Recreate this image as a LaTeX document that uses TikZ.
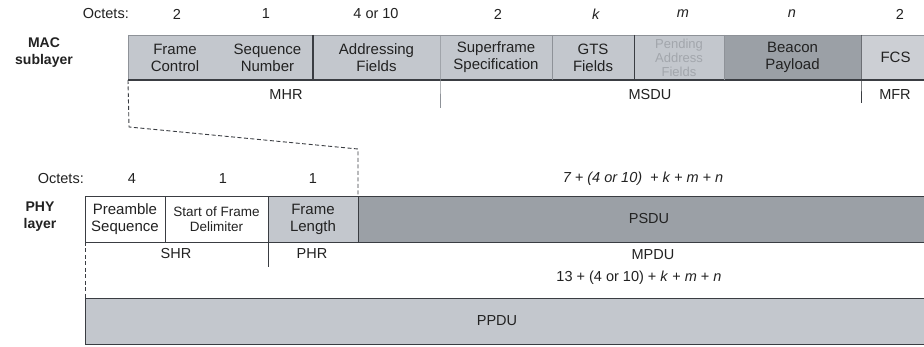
\documentclass[tikz,border=0pt]{standalone}
\usepackage{fontspec}
\setmainfont{Liberation Sans}
\usetikzlibrary{calc}
\definecolor{lightcell}{HTML}{C3C7CD}
\definecolor{darkcell}{HTML}{9BA0A6}
\definecolor{edge}{HTML}{3A3D42}
\definecolor{softedge}{HTML}{8E9298}
\definecolor{faded}{HTML}{A2A6AC}
\definecolor{ink}{HTML}{222222}
\begin{document}
\begin{tikzpicture}[x=1pt,y=-1pt,
  cell/.style={inner sep=0pt, outer sep=0pt, align=center, font=\fontsize{15}{17}\selectfont, text=ink},
  lbl/.style={inner sep=0pt, font=\fontsize{14.5}{17}\selectfont, text=ink},
  layerlbl/.style={inner sep=0pt, align=center, font=\fontsize{14}{17}\bfseries\selectfont, text=ink},
  phycell/.style={cell, draw=edge, line width=0.9pt},
  dashline/.style={edge, line width=0.9pt, dash pattern=on 4pt off 2.5pt},
  hardline/.style={edge, line width=1pt},
  softline/.style={softedge, line width=0.7pt}]
\clip (0,0) rectangle (924,347);
\fill[white] (0,0) rectangle (924,347);

% ---------- MAC sublayer ----------
\node[lbl, anchor=east] (oct1) at (129,14) {Octets:};
\node[lbl] (o1) at (177,14) {2};
\node[lbl] (o2) at (266,14) {1};
\node[lbl] (o3) at (376,14) {4 or 10};
\node[lbl] (o4) at (498,14) {2};
\node[lbl] (o5) at (596,14) {\textit{k}};
\node[lbl] (o6) at (683,14) {\textit{m}};
\node[lbl] (o7) at (792,14) {\textit{n}};
\node[lbl] (o8) at (900,14) {2};

\node[layerlbl] (mac) at (44,53) {MAC\\sublayer};

\node[cell, fill=lightcell, minimum width=94pt, minimum height=45pt] (fc) at (175,57.5) {Frame\\Control};
\node[cell, fill=lightcell, minimum width=91pt, minimum height=45pt] (sn) at (267.5,57.5) {Sequence\\Number};
\node[cell, fill=lightcell, minimum width=127pt, minimum height=45pt] (ad) at (376.5,57.5) {Addressing\\Fields};
\node[cell, fill=lightcell, minimum width=112pt, minimum height=45pt] (sf) at (496,57.5) {Superframe\\Specification};
\node[cell, fill=lightcell, minimum width=82pt, minimum height=45pt] (gts) at (593,57.5) {GTS\\Fields};
\node[cell, fill=lightcell, minimum width=90pt, minimum height=45pt, text=faded, font=\fontsize{13}{14}\selectfont] (pa) at (679,57.5) {Pending\\Address\\Fields};
\node[cell, fill=darkcell, minimum width=137pt, minimum height=45pt] (bp) at (792.5,57.5) {Beacon\\Payload};
\node[cell, fill=lightcell!85!white, minimum width=69pt, minimum height=45pt] (fcs) at (895.5,57.5) {FCS};

\coordinate (mhrend) at (440,108);
\coordinate (mfrend) at (861,103);
\draw[softline, line width=0.5pt] (fc.north west) -- (fcs.north east);
\draw[softline, line width=0.5pt] (fc.north west) -- (fc.south west);
\draw[hardline, line width=1.1pt] (fc.south west) -- (fcs.south east);
\draw[hardline, line width=1.6pt] (ad.north west) -- (ad.south west);
\draw[softline, line width=1pt] (sf.north west) -- (sf.south west) -- (mhrend);
\draw[softline] (gts.north west) -- (gts.south west);
\draw[hardline] (pa.north west) -- (pa.south west);
\draw[softline, line width=0.4pt] (bp.north west) -- (bp.south west);
\draw[hardline] (fcs.north west) -- (fcs.south west) -- (mfrend);

\node[lbl] (mhr) at (286,95) {MHR};
\node[lbl] (msdu) at (650,95) {MSDU};
\node[lbl] (mfr) at (895,95) {MFR};

% ---------- PHY layer ----------
\node[lbl, anchor=east] (oct2) at (84,179) {Octets:};
\node[lbl] (p1) at (132,179) {4};
\node[lbl] (p2) at (223,179) {1};
\node[lbl] (p3) at (313,179) {1};
\node[lbl] (psdulen) at (643,179) {\textit{7 + (4 or 10)\ \ + k + m + n}};

\node[layerlbl] (phy) at (40,217) {PHY\\layer};

\node[phycell, fill=white, minimum width=80pt, minimum height=46pt] (ps) at (125,219) {Preamble\\Sequence};
\node[phycell, fill=white, minimum width=103pt, minimum height=46pt, font=\fontsize{13.5}{15}\selectfont] (sfd) at (216.5,219) {Start of Frame\\Delimiter};
\node[phycell, fill=lightcell, minimum width=90pt, minimum height=46pt] (fl) at (313,219) {Frame\\Length};
\node[phycell, fill=darkcell, minimum width=572pt, minimum height=46pt] (psdu) at (644,219) {};
\node[lbl] (psdul) at (649,219) {PSDU};

\coordinate (d1) at (129,127);
\coordinate (d2) at (358,149);
\draw[dashline] (fc.south west) -- (d1) -- (d2) -- (fl.north east);

\coordinate (phrend) at (268,267);
\draw[hardline, line width=0.9pt] (fl.south west) -- (phrend);
\node[lbl] (shr) at (176,254) {SHR};
\node[lbl] (phr) at (312,254) {PHR};
\node[lbl] (mpdu) at (653,255) {MPDU};
\node[lbl] (mpdulen) at (639,278) {13 + (4 or 10) + \textit{k} + \textit{m} + \textit{n}};

\node[phycell, fill=lightcell, minimum width=845pt, minimum height=46pt] (ppdu) at (507.5,321) {};
\node[lbl] (ppdul) at (497,321) {PPDU};
\draw[dashline] (ps.south west) -- (ppdu.north west);
\end{tikzpicture}
\end{document}
